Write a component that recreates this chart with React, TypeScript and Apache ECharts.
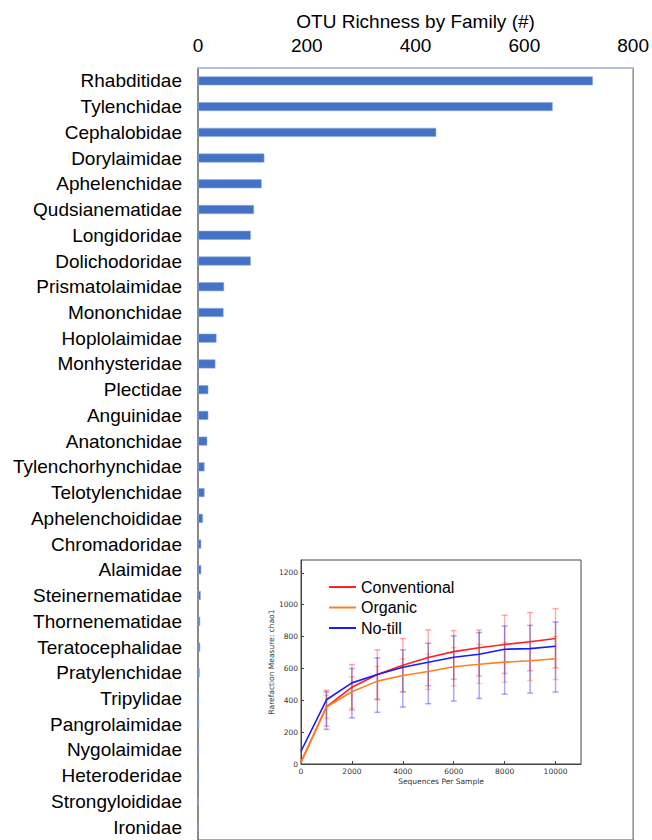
import React, { useEffect, useRef } from "react";
import * as echarts from "echarts";

const families = [
  "Rhabditidae", "Tylenchidae", "Cephalobidae", "Dorylaimidae", "Aphelenchidae",
  "Qudsianematidae", "Longidoridae", "Dolichodoridae", "Prismatolaimidae", "Mononchidae",
  "Hoplolaimidae", "Monhysteridae", "Plectidae", "Anguinidae", "Anatonchidae",
  "Tylenchorhynchidae", "Telotylenchidae", "Aphelenchoididae", "Chromadoridae", "Alaimidae",
  "Steinernematidae", "Thornenematidae", "Teratocephalidae", "Pratylenchidae", "Tripylidae",
  "Pangrolaimidae", "Nygolaimidae", "Heteroderidae", "Strongyloididae", "Ironidae",
];
const otuRichness = [
  726, 652, 438, 122, 117, 103, 97, 97, 48, 47,
  34, 32, 19, 19, 17, 12, 12, 9, 6, 6,
  5, 4, 4, 3, 2, 2, 2, 2, 1, 1,
];
const xTicks = { min: 0, max: 800, interval: 200 };

const seqDepth = [0, 1000, 2000, 3000, 4000, 5000, 6000, 7000, 8000, 9000, 10000];
const convMean = [12, 358, 482, 562, 620, 668, 705, 729, 750, 767, 787];
const orgMean = [10, 358, 453, 520, 555, 580, 610, 626, 639, 648, 660];
const notillMean = [80, 403, 509, 562, 607, 638, 670, 689, 720, 724, 739];
const convLow = [null, 238, 338, 403, 453, 491, 532, 553, 568, 585, 603];
const convHigh = [null, 463, 624, 716, 787, 841, 837, 841, 933, 950, 975];
const orgLow = [null, 286, 349, 410, 453, 468, 490, 505, 514, 524, 530];
const orgHigh = [null, 432, 547, 612, 660, 690, 731, 750, 762, 770, 800];
const notillLow = [null, 217, 290, 324, 357, 378, 395, 411, 438, 445, 451];
const notillHigh = [null, 453, 599, 666, 716, 758, 804, 825, 866, 870, 891];

const RED = "#ff2020";
const ORANGE = "#ff7f1e";
const BLUE = "#1a1aff";

function errData(low: (number | null)[], high: (number | null)[]) {
  const out: number[][] = [];
  seqDepth.forEach((x, i) => {
    if (low[i] != null && high[i] != null) out.push([x, low[i] as number, high[i] as number]);
  });
  return out;
}

function errSeries(name: string, low: (number | null)[], high: (number | null)[], color: string) {
  return {
    type: "custom",
    name: name + "-err",
    xAxisIndex: 1,
    yAxisIndex: 1,
    z: 3,
    encode: { x: 0, y: [1, 2] },
    data: errData(low, high),
    renderItem: (params: any, api: any) => {
      const x = api.value(0);
      const lo = api.coord([x, api.value(1)]);
      const hi = api.coord([x, api.value(2)]);
      const hw = 3;
      const style = { stroke: color, lineWidth: 1.5 };
      return {
        type: "group",
        children: [
          { type: "line", shape: { x1: lo[0], y1: lo[1], x2: hi[0], y2: hi[1] }, style },
          { type: "line", shape: { x1: lo[0] - hw, y1: lo[1], x2: lo[0] + hw, y2: lo[1] }, style },
          { type: "line", shape: { x1: hi[0] - hw, y1: hi[1], x2: hi[0] + hw, y2: hi[1] }, style },
        ],
      };
    },
  };
}

function lineSeries(name: string, values: number[], color: string) {
  return {
    type: "line",
    name,
    xAxisIndex: 1,
    yAxisIndex: 1,
    z: 5,
    showSymbol: false,
    symbol: "none",
    data: seqDepth.map((x, i) => [x, values[i]]),
    lineStyle: { color, width: 1.6 },
    itemStyle: { color },
  };
}

export default function App() {
  const ref = useRef<HTMLDivElement>(null);
  useEffect(() => {
    if (!ref.current) return;
    const chart = echarts.init(ref.current, undefined, { renderer: "svg" });
    const insetText = { fontFamily: "DejaVu Sans", fontSize: 7.5, color: "#333" };
    const plain = (v: number) => String(v);
    chart.setOption({
      animation: false,
      backgroundColor: "#fff",
      textStyle: { fontFamily: "Liberation Sans, Arial, sans-serif" },
      grid: [
        {
          left: 198, top: 68, width: 437, height: 777,
          show: true, borderColor: "#8c8c8c", borderWidth: 1.5, containLabel: false,
        },
        {
          left: 301, top: 560, width: 280, height: 204,
          show: true, borderColor: "#444", borderWidth: 1, backgroundColor: "#fff",
          containLabel: false,
        },
      ],
      xAxis: [
        {
          type: "value", gridIndex: 0, position: "top",
          min: xTicks.min, max: xTicks.max, interval: xTicks.interval,
          name: "OTU Richness by Family (#)", nameLocation: "middle", nameGap: 37,
          nameTextStyle: { fontSize: 19, color: "#000" },
          axisLine: { show: true, lineStyle: { color: "#b4c7e7", width: 1.5 } },
          axisTick: { show: false },
          splitLine: { show: false },
          axisLabel: { fontSize: 19, color: "#000", margin: 13, formatter: plain },
        },
        {
          type: "value", gridIndex: 1, min: 0, max: 11000, interval: 2000,
          name: "Sequences Per Sample", nameLocation: "middle", nameGap: 13,
          nameTextStyle: insetText,
          axisLine: { show: true, lineStyle: { color: "#444" } },
          axisTick: { show: true, inside: true, length: 3, lineStyle: { color: "#444" } },
          splitLine: { show: false },
          axisLabel: { ...insetText, margin: 3, showMaxLabel: false, formatter: plain },
        },
      ],
      yAxis: [
        {
          type: "category", gridIndex: 0, data: families, inverse: true,
          axisLine: { show: true, lineStyle: { color: "#7f7f7f", width: 1.5 } },
          axisTick: { show: false },
          axisLabel: { fontSize: 19, color: "#000", margin: 16 },
        },
        {
          type: "value", gridIndex: 1, min: 0, max: 1280, interval: 200,
          name: "Rarefaction Measure: chao1", nameLocation: "middle", nameGap: 24,
          nameTextStyle: insetText,
          axisLine: { show: true, lineStyle: { color: "#444" } },
          axisTick: { show: true, inside: true, length: 3, lineStyle: { color: "#444" } },
          splitLine: { show: false },
          axisLabel: { ...insetText, margin: 3, showMaxLabel: false, formatter: plain },
        },
      ],
      legend: {
        data: ["Conventional", "Organic", "No-till"],
        orient: "vertical",
        left: 324,
        top: 574,
        icon: "rect",
        itemWidth: 27,
        itemHeight: 2,
        itemGap: 4.5,
        textStyle: { fontFamily: "Liberation Sans, Arial", fontSize: 16, lineHeight: 16, color: "#000" },
        z: 20,
      },
      series: [
        {
          type: "bar", name: "OTU richness", xAxisIndex: 0, yAxisIndex: 0,
          data: otuRichness, barWidth: 9,
          itemStyle: { color: "#4472c4", borderColor: "#8faadc", borderWidth: 0.6 },
        },
        errSeries("Organic", orgLow, orgHigh, "rgba(255,127,30,0.38)"),
        errSeries("Conventional", convLow, convHigh, "rgba(255,40,40,0.38)"),
        errSeries("No-till", notillLow, notillHigh, "rgba(30,30,255,0.38)"),
        lineSeries("Conventional", convMean, RED),
        lineSeries("Organic", orgMean, ORANGE),
        lineSeries("No-till", notillMean, BLUE),
      ],
    });
    return () => chart.dispose();
  }, []);
  return (
    <div
      ref={ref}
      style={{ position: "fixed", left: 0, top: 0, width: 652, height: 840 }}
    />
  );
}
